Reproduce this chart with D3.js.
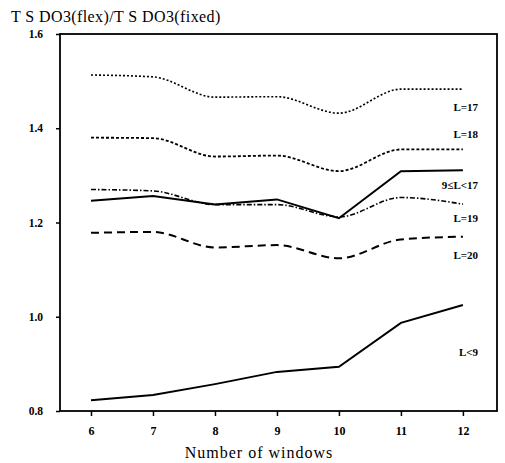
<html>
<head>
<meta charset="utf-8">
<script src="https://cdn.jsdelivr.net/npm/d3@7/dist/d3.min.js"></script>
<style>
  body { margin: 0; background: #fff; }
  svg text { font-family: "Liberation Serif", "Times New Roman", serif; fill: #000; }
</style>
</head>
<body>
<div id="chart"></div>
<script>
// number of windows
var windows = [6, 7, 8, 9, 10, 11, 12];

// ratio TS DO3(flex) / TS DO3(fixed), one array per series
var l17 = [1.513, 1.509, 1.466, 1.467, 1.432, 1.483, 1.483];
var l18 = [1.380, 1.379, 1.340, 1.342, 1.309, 1.355, 1.355];
var l9to17 = [1.246, 1.256, 1.238, 1.249, 1.209, 1.309, 1.311];
var l19 = [1.270, 1.267, 1.238, 1.238, 1.212, 1.253, 1.239];
var l20 = [1.178, 1.180, 1.147, 1.152, 1.124, 1.164, 1.170];
var lt9 = [0.823, 0.834, 0.857, 0.883, 0.894, 0.987, 1.025];

var yTicks = [0.8, 1.0, 1.2, 1.4, 1.6];
var xTicks = [6, 7, 8, 9, 10, 11, 12];

var series = [
  { name: "L=17", values: l17, dash: "2,2", width: 1.6, curve: true, lx: 478, ly: 111 },
  { name: "L=18", values: l18, dash: "3,2", width: 1.8, curve: true, lx: 478, ly: 138 },
  { name: "9\u2264L<17", values: l9to17, dash: null, width: 2, curve: false, lx: 478, ly: 189 },
  { name: "L=19", values: l19, dash: "5,2,1.5,2", width: 1.6, curve: true, lx: 478, ly: 222 },
  { name: "L=20", values: l20, dash: "8,5", width: 2, curve: true, lx: 478, ly: 259 },
  { name: "L<9", values: lt9, dash: null, width: 2, curve: false, lx: 478, ly: 356 }
];

var width = 505, height = 463;
var plotL = 60, plotR = 497, plotT = 34, plotB = 411;

var svg = d3.select("#chart").append("svg")
    .attr("width", width)
    .attr("height", height);

var x = d3.scaleLinear().domain([5.5, 12.55]).range([plotL, plotR]);
var y = d3.scaleLinear().domain([0.8, 1.6]).range([plotB, plotT]);

// frame
svg.append("rect")
    .attr("x", plotL).attr("y", plotT)
    .attr("width", plotR - plotL).attr("height", plotB - plotT)
    .attr("fill", "none").attr("stroke", "#000").attr("stroke-width", 1.8);

// x axis, major + minor ticks
var xAxis = svg.append("g").attr("transform", "translate(0," + plotB + ")");
xAxis.call(d3.axisBottom(x).tickValues(d3.range(6, 12.6, 0.5)).tickSize(3).tickFormat(""));
xAxis.call(d3.axisBottom(x).tickValues(xTicks).tickSize(5).tickPadding(10).tickFormat(d3.format("d")));
xAxis.selectAll(".domain").remove();
xAxis.selectAll("line").attr("stroke-width", 1.5);
xAxis.selectAll("text").attr("font-size", 12).attr("font-weight", "bold")
    .style("font-family", "Liberation Serif, serif");

// y axis
var yAxis = svg.append("g").attr("transform", "translate(" + plotL + ",0)");
yAxis.call(d3.axisLeft(y).tickValues(d3.range(0.8, 1.65, 0.1)).tickSize(3).tickFormat(""));
yAxis.call(d3.axisLeft(y).tickValues(yTicks).tickSize(4).tickPadding(13).tickFormat(d3.format(".1f")));
yAxis.selectAll(".domain").remove();
yAxis.selectAll("line").attr("stroke-width", 1.5);
yAxis.selectAll("text").attr("font-size", 11.5).attr("font-weight", "bold")
    .style("font-family", "Liberation Serif, serif");

// lines
series.forEach(function(s) {
  var line = d3.line()
      .x(function(d, i) { return x(windows[i]); })
      .y(function(d) { return y(d); })
      .curve(s.curve ? d3.curveMonotoneX : d3.curveLinear);
  svg.append("path")
      .datum(s.values)
      .attr("d", line)
      .attr("fill", "none")
      .attr("stroke", "#000")
      .attr("stroke-width", s.width)
      .attr("stroke-dasharray", s.dash);
  svg.append("text")
      .attr("x", s.lx).attr("y", s.ly)
      .attr("text-anchor", "end")
      .attr("font-size", 11)
      .attr("font-weight", "bold")
      .text(s.name);
});

// titles
svg.append("text")
    .attr("x", 11).attr("y", 22)
    .attr("font-size", 16)
    .attr("letter-spacing", 0.4)
    .text("T S DO3(flex)/T S DO3(fixed)");

svg.append("text")
    .attr("x", 259).attr("y", 458)
    .attr("text-anchor", "middle")
    .attr("font-size", 16)
    .attr("letter-spacing", 1)
    .text("Number of windows");
</script>
</body>
</html>
